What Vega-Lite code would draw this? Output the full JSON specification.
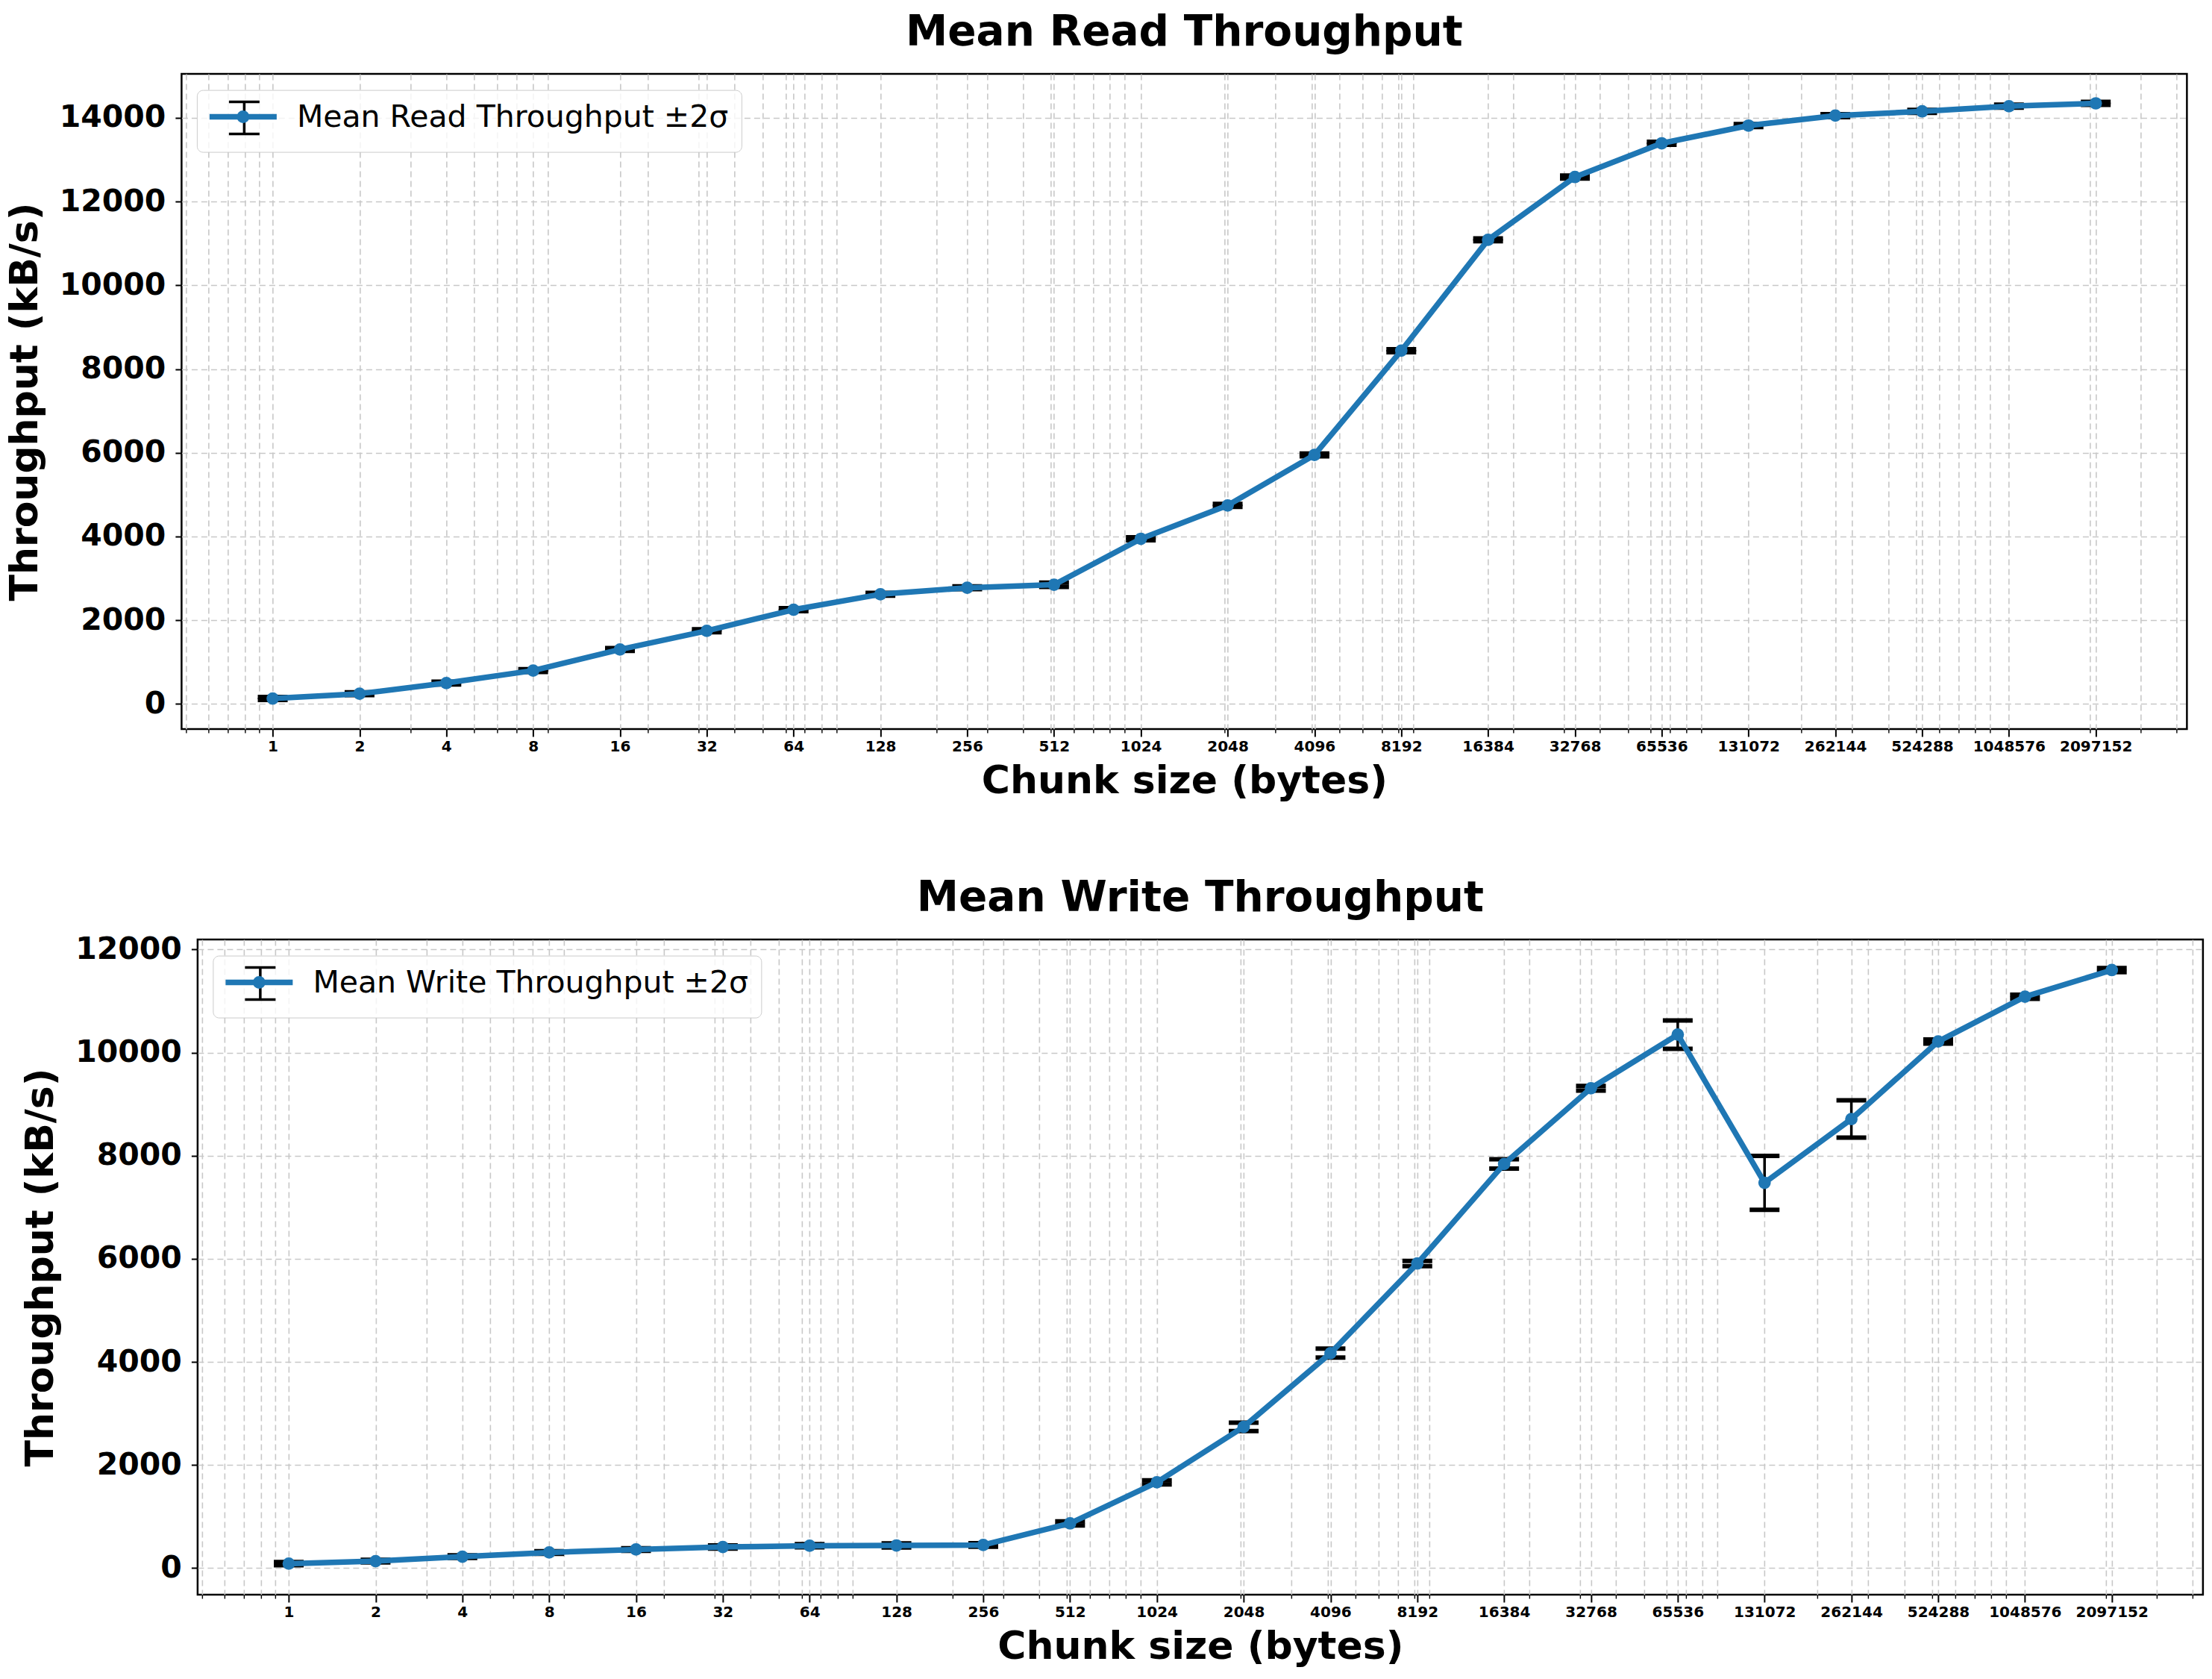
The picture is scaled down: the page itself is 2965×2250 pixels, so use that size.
{
  "$schema": "https://vega.github.io/schema/vega-lite/v6.json",
  "padding": {"left": 5, "top": 14, "right": 10, "bottom": 10},
  "background": "white",
  "config": {
    "font": "DejaVu Sans",
    "view": {"stroke": "black", "strokeWidth": 2.5},
    "title": {"fontSize": 56.5, "fontWeight": "bold", "color": "black", "anchor": "middle", "frame": "group", "offset": 27},
    "axis": {
      "labelColor": "black", "labelFontWeight": "bold", "labelFont": "DejaVu Sans",
      "titleFont": "DejaVu Sans", "titleFontSize": 52, "titleFontWeight": "bold", "titleColor": "black",
      "tickColor": "black", "domain": false,
      "gridColor": "#c8c8c8", "gridWidth": 1.6, "gridDash": [8, 5]
    },
    "legend": {"symbolOpacity": 1}
  },
  "datasets": {
    "read": [
      {"size": 1, "mean": 130, "lo": 95, "hi": 165},
      {"size": 2, "mean": 244, "lo": 209, "hi": 279},
      {"size": 4, "mean": 499, "lo": 464, "hi": 534},
      {"size": 8, "mean": 797, "lo": 762, "hi": 832},
      {"size": 16, "mean": 1301, "lo": 1266, "hi": 1336},
      {"size": 32, "mean": 1747, "lo": 1712, "hi": 1782},
      {"size": 64, "mean": 2251, "lo": 2216, "hi": 2286},
      {"size": 128, "mean": 2620, "lo": 2585, "hi": 2655},
      {"size": 256, "mean": 2775, "lo": 2740, "hi": 2810},
      {"size": 512, "mean": 2847, "lo": 2797, "hi": 2897},
      {"size": 1024, "mean": 3945, "lo": 3910, "hi": 3980},
      {"size": 2048, "mean": 4742, "lo": 4707, "hi": 4777},
      {"size": 4096, "mean": 5948, "lo": 5913, "hi": 5983},
      {"size": 8192, "mean": 8438, "lo": 8403, "hi": 8473},
      {"size": 16384, "mean": 11086, "lo": 11051, "hi": 11121},
      {"size": 32768, "mean": 12586, "lo": 12551, "hi": 12621},
      {"size": 65536, "mean": 13392, "lo": 13357, "hi": 13427},
      {"size": 131072, "mean": 13815, "lo": 13780, "hi": 13850},
      {"size": 262144, "mean": 14053, "lo": 14018, "hi": 14088},
      {"size": 524288, "mean": 14155, "lo": 14120, "hi": 14190},
      {"size": 1048576, "mean": 14278, "lo": 14243, "hi": 14313},
      {"size": 2097152, "mean": 14346, "lo": 14311, "hi": 14381}
    ],
    "write": [
      {"size": 1, "mean": 87, "lo": 57, "hi": 117},
      {"size": 2, "mean": 135, "lo": 110, "hi": 160},
      {"size": 4, "mean": 222, "lo": 197, "hi": 247},
      {"size": 8, "mean": 304, "lo": 279, "hi": 329},
      {"size": 16, "mean": 362, "lo": 337, "hi": 387},
      {"size": 32, "mean": 410, "lo": 380, "hi": 440},
      {"size": 64, "mean": 434, "lo": 404, "hi": 464},
      {"size": 128, "mean": 440, "lo": 400, "hi": 480},
      {"size": 256, "mean": 449, "lo": 414, "hi": 484},
      {"size": 512, "mean": 868, "lo": 828, "hi": 908},
      {"size": 1024, "mean": 1665, "lo": 1625, "hi": 1705},
      {"size": 2048, "mean": 2740, "lo": 2660, "hi": 2820},
      {"size": 4096, "mean": 4170, "lo": 4083, "hi": 4257},
      {"size": 8192, "mean": 5909, "lo": 5859, "hi": 5959},
      {"size": 16384, "mean": 7840, "lo": 7750, "hi": 7930},
      {"size": 32768, "mean": 9310, "lo": 9265, "hi": 9355},
      {"size": 65536, "mean": 10350, "lo": 10075, "hi": 10625},
      {"size": 131072, "mean": 7475, "lo": 6952, "hi": 7998},
      {"size": 262144, "mean": 8712, "lo": 8350, "hi": 9074},
      {"size": 524288, "mean": 10217, "lo": 10177, "hi": 10257},
      {"size": 1048576, "mean": 11085, "lo": 11045, "hi": 11125},
      {"size": 2097152, "mean": 11602, "lo": 11562, "hi": 11642}
    ]
  },
  "resolve": {"scale": {"color": "independent", "stroke": "independent"}},
  "spacing": 100,
  "center": true,
  "vconcat": [
    {
      "width": 2688,
      "height": 878,
      "title": "Mean Read Throughput",
      "data": {"name": "read"},
      "encoding": {
        "x": {
          "field": "size", "type": "quantitative",
          "scale": {"type": "log", "domain": [0.48297, 4342200], "nice": false, "zero": false},
          "axis": {
            "title": "Chunk size (bytes)",
            "values": [1, 2, 4, 8, 16, 32, 64, 128, 256, 512, 1024, 2048, 4096, 8192, 16384, 32768, 65536, 131072, 262144, 524288, 1048576, 2097152,
              0.5, 0.6, 0.7, 0.8, 0.9, 3, 5, 6, 7, 9, 20, 30, 40, 50, 60, 70, 80, 90, 200, 300, 400, 500, 600, 700, 800, 900,
              2000, 3000, 4000, 5000, 6000, 7000, 8000, 9000, 20000, 30000, 40000, 50000, 60000, 70000, 80000, 90000,
              200000, 300000, 400000, 500000, 600000, 700000, 800000, 900000, 2000000, 3000000, 4000000],
            "format": "d",
            "labelExpr": "datum.value >= 1 && pow(2, round(log(datum.value) / LN2)) == datum.value ? datum.label : ''",
            "labelFontSize": 20, "labelPadding": 3, "labelOverlap": false, "labelFlush": false,
            "tickSize": {"condition": {"test": "datum.value >= 1 && pow(2, round(log(datum.value) / LN2)) == datum.value", "value": 10}, "value": 5},
            "tickWidth": {"condition": {"test": "datum.value >= 1 && pow(2, round(log(datum.value) / LN2)) == datum.value", "value": 2}, "value": 1.4},
            "titlePadding": 11, "grid": true
          }
        }
      },
      "layer": [
        {
          "mark": {"type": "rule", "strokeWidth": 3.5},
          "encoding": {
            "y": {
              "field": "lo", "type": "quantitative", "title": "Throughput (kB/s)",
              "scale": {"domain": [-600, 15050], "nice": false, "zero": false},
              "axis": {"values": [0, 2000, 4000, 6000, 8000, 10000, 12000, 14000], "format": "d", "labelFontSize": 41, "labelPadding": 13, "tickSize": 8.5, "tickWidth": 2, "titlePadding": 19, "grid": true}
            },
            "y2": {"field": "hi"},
            "color": {
              "datum": "Mean Read Throughput ±2σ",
              "scale": {"range": ["black"]},
              "legend": {
                "title": null, "orient": "none", "legendX": 20.5, "legendY": 21.6,
                "symbolType": "M-1.367,-1.433H1.367M0,-1.433V1.433M-1.367,1.433H1.367", "symbolSize": 900, "symbolStrokeWidth": 3.5, "symbolOffset": 26,
                "labelFontSize": 41, "labelFont": "DejaVu Sans", "labelColor": "black", "labelOffset": 50, "labelLimit": 2000,
                "padding": 17, "fillColor": "rgba(255,255,255,0.8)", "strokeColor": "#cccccc", "cornerRadius": 8
              }
            }
          }
        },
        {
          "mark": {"type": "tick", "orient": "horizontal", "size": 40, "thickness": 6, "color": "black", "opacity": 1},
          "encoding": {"y": {"field": "lo", "type": "quantitative", "title": "Throughput (kB/s)", "axis": null}}
        },
        {
          "mark": {"type": "tick", "orient": "horizontal", "size": 40, "thickness": 6, "color": "black", "opacity": 1},
          "encoding": {"y": {"field": "hi", "type": "quantitative", "title": "Throughput (kB/s)", "axis": null}}
        },
        {
          "mark": {"type": "line", "strokeWidth": 7.5, "strokeJoin": "round", "strokeCap": "round"},
          "encoding": {
            "y": {"field": "mean", "type": "quantitative", "title": "Throughput (kB/s)", "axis": null},
            "stroke": {
              "datum": "line",
              "scale": {"range": ["#1f77b4"]},
              "legend": {
                "title": null, "orient": "none", "legendX": 20.5, "legendY": 21.6,
                "symbolType": "M-3,0H3M0.317,0A0.317,0.317 0 1,1 -0.317,0A0.317,0.317 0 1,1 0.317,0", "symbolSize": 900,
                "symbolStrokeWidth": 7.5, "symbolFillColor": "#1f77b4", "symbolOffset": 26, "labelExpr": "''", "padding": 17
              }
            }
          }
        },
        {
          "mark": {"type": "circle", "size": 280, "color": "#1f77b4", "opacity": 1},
          "encoding": {
            "y": {
              "field": "mean", "type": "quantitative", "title": "Throughput (kB/s)",
              "axis": {"orient": "right", "offset": 43, "domain": true, "domainOpacity": 0, "labels": false, "ticks": false, "grid": false, "title": null}
            }
          }
        }
      ],
      "resolve": {"axis": {"y": "independent"}}
    },
    {
      "width": 2688,
      "height": 878,
      "title": {"text": "Mean Write Throughput", "offset": 19},
      "data": {"name": "write"},
      "encoding": {
        "x": {
          "field": "size", "type": "quantitative",
          "scale": {"type": "log", "domain": [0.48297, 4342200], "nice": false, "zero": false},
          "axis": {
            "title": "Chunk size (bytes)",
            "values": [1, 2, 4, 8, 16, 32, 64, 128, 256, 512, 1024, 2048, 4096, 8192, 16384, 32768, 65536, 131072, 262144, 524288, 1048576, 2097152,
              0.5, 0.6, 0.7, 0.8, 0.9, 3, 5, 6, 7, 9, 20, 30, 40, 50, 60, 70, 80, 90, 200, 300, 400, 500, 600, 700, 800, 900,
              2000, 3000, 4000, 5000, 6000, 7000, 8000, 9000, 20000, 30000, 40000, 50000, 60000, 70000, 80000, 90000,
              200000, 300000, 400000, 500000, 600000, 700000, 800000, 900000, 2000000, 3000000, 4000000],
            "format": "d",
            "labelExpr": "datum.value >= 1 && pow(2, round(log(datum.value) / LN2)) == datum.value ? datum.label : ''",
            "labelFontSize": 20, "labelPadding": 3, "labelOverlap": false, "labelFlush": false,
            "tickSize": {"condition": {"test": "datum.value >= 1 && pow(2, round(log(datum.value) / LN2)) == datum.value", "value": 10}, "value": 5},
            "tickWidth": {"condition": {"test": "datum.value >= 1 && pow(2, round(log(datum.value) / LN2)) == datum.value", "value": 2}, "value": 1.4},
            "titlePadding": 11, "grid": true
          }
        }
      },
      "layer": [
        {
          "mark": {"type": "rule", "strokeWidth": 3.5},
          "encoding": {
            "y": {
              "field": "lo", "type": "quantitative", "title": "Throughput (kB/s)",
              "scale": {"domain": [-515, 12195], "nice": false, "zero": false},
              "axis": {"values": [0, 2000, 4000, 6000, 8000, 10000, 12000], "format": "d", "labelFontSize": 41, "labelPadding": 13, "tickSize": 8.5, "tickWidth": 2, "titlePadding": 19, "grid": true}
            },
            "y2": {"field": "hi"},
            "color": {
              "datum": "Mean Write Throughput ±2σ",
              "scale": {"range": ["black"]},
              "legend": {
                "title": null, "orient": "none", "legendX": 20.5, "legendY": 21.6,
                "symbolType": "M-1.367,-1.433H1.367M0,-1.433V1.433M-1.367,1.433H1.367", "symbolSize": 900, "symbolStrokeWidth": 3.5, "symbolOffset": 26,
                "labelFontSize": 41, "labelFont": "DejaVu Sans", "labelColor": "black", "labelOffset": 50, "labelLimit": 2000,
                "padding": 17, "fillColor": "rgba(255,255,255,0.8)", "strokeColor": "#cccccc", "cornerRadius": 8
              }
            }
          }
        },
        {
          "mark": {"type": "tick", "orient": "horizontal", "size": 40, "thickness": 6, "color": "black", "opacity": 1},
          "encoding": {"y": {"field": "lo", "type": "quantitative", "title": "Throughput (kB/s)"}}
        },
        {
          "mark": {"type": "tick", "orient": "horizontal", "size": 40, "thickness": 6, "color": "black", "opacity": 1},
          "encoding": {"y": {"field": "hi", "type": "quantitative", "title": "Throughput (kB/s)"}}
        },
        {
          "mark": {"type": "line", "strokeWidth": 7.5, "strokeJoin": "round", "strokeCap": "round"},
          "encoding": {
            "y": {"field": "mean", "type": "quantitative", "title": "Throughput (kB/s)"},
            "stroke": {
              "datum": "line",
              "scale": {"range": ["#1f77b4"]},
              "legend": {
                "title": null, "orient": "none", "legendX": 20.5, "legendY": 21.6,
                "symbolType": "M-3,0H3M0.317,0A0.317,0.317 0 1,1 -0.317,0A0.317,0.317 0 1,1 0.317,0", "symbolSize": 900,
                "symbolStrokeWidth": 7.5, "symbolFillColor": "#1f77b4", "symbolOffset": 26, "labelExpr": "''", "padding": 17
              }
            }
          }
        },
        {
          "mark": {"type": "circle", "size": 280, "color": "#1f77b4", "opacity": 1},
          "encoding": {"y": {"field": "mean", "type": "quantitative", "title": "Throughput (kB/s)"}}
        }
      ]
    }
  ]
}
